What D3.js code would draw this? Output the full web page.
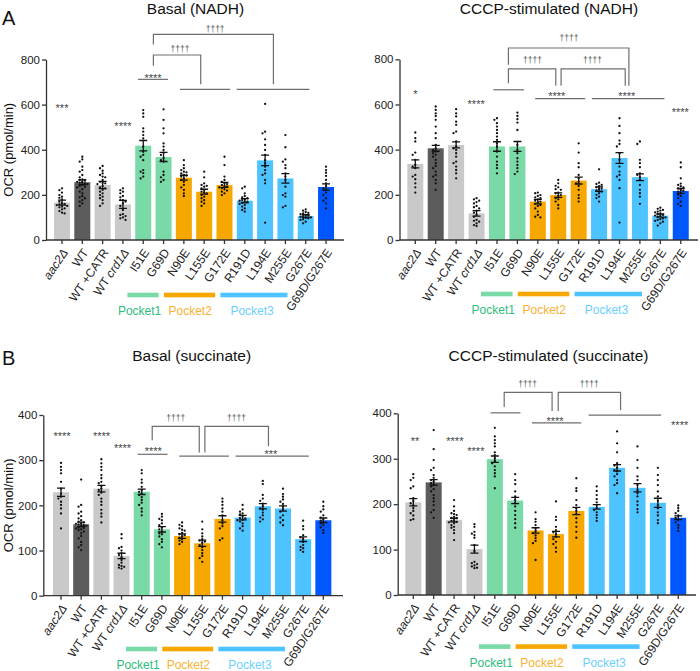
<!DOCTYPE html>
<html>
<head>
<meta charset="utf-8">
<script src="https://cdn.jsdelivr.net/npm/d3@7"></script>
<style>
body { margin: 0; background: #fff; }
svg text { font-family: "Liberation Sans", Arial, sans-serif; }
</style>
</head>
<body>
<div id="container"></div>
<script>

var categories = ["aac2Δ", "WT", "WT +CATR", "WT crd1Δ", "I51E", "G69D", "N90E", "L155E", "G172E", "R191D", "L194E", "M255E", "G267E", "G69D/G267E"];
var barGroups  = ["ctrl", "wt", "ctrl", "ctrl", "p1", "p1", "p2", "p2", "p2", "p3", "p3", "p3", "p3", "double"];
var pocketNames = ["Pocket1", "Pocket2", "Pocket3"];

var nadhTicks = [0, 200, 400, 600, 800];
var succTicks = [0, 100, 200, 300, 400];

// means and SEM
var basalNadhMean = [166, 256, 244, 158, 418, 368, 276, 214, 244, 174, 353, 273, 106, 235];
var basalNadhSem  = [11, 11, 16, 18, 23, 20, 11, 11, 11, 9, 23, 21, 6, 14];
var cccpNadhMean  = [337, 406, 421, 118, 414, 414, 170, 199, 263, 225, 363, 278, 108, 217];
var cccpNadhSem   = [18, 13, 13, 12, 21, 22, 10, 10, 15, 10, 24, 15, 7, 11];
var basalSuccMean = [229, 158, 237, 88, 230, 147, 132, 116, 170, 173, 198, 193, 125, 167];
var basalSuccSem  = [9, 5, 7, 6, 6, 6, 5, 7, 7, 5, 6, 6, 5, 5];
var cccpSuccMean  = [204, 248, 165, 101, 299, 208, 142, 134, 185, 194, 280, 236, 203, 170];
var cccpSuccSem   = [8, 6, 4, 9, 7, 7, 6, 6, 8, 5, 7, 9, 10, 4];

// individual replicates
var basalNadhPoints = [
  [229,221,210,199,192,187,180,170,162,160,158,155,151,148,145,140,136,128,121,118],
  [369,357,347,325,310,303,288,278,269,263,258,254,251,248,244,239,233,225,214,207,195,185,177,170,162,151,266,257,236,189],
  [328,318,307,295,288,278,266,258,254,248,239,233,229,222,214,207,192,185,177,162,151,281,251,199],
  [229,221,214,207,195,189,177,170,162,151,133,115,106,100,96,89,111,177],
  [576,561,546,495,480,465,450,414,391,377,369,354,310,303,296,281,273],
  [579,532,495,473,428,414,399,387,377,362,354,347,303,288,278,266,258],
  [354,332,318,310,303,295,288,281,273,266,258,244,233,222,207,195,300,285],
  [303,278,251,244,236,229,222,214,207,199,192,185,177,170,162,151,240,210],
  [369,332,281,266,258,251,244,239,233,229,225,219,214,207,199,248,236],
  [236,229,207,195,189,185,177,174,170,165,160,155,148,140,133,126,180,168],
  [603,480,473,446,421,399,377,354,340,325,310,295,288,266,251,77],
  [465,411,357,347,332,318,295,281,266,236,207,199,192,151,145],
  [136,130,124,118,115,111,106,103,100,96,92,89,81,74,120,108,98],
  [325,310,298,284,266,251,239,229,222,210,199,185,174,162,140]
];
var cccpNadhPoints = [
  [476,451,436,387,377,355,332,325,318,288,281,269,251,233,210],
  [591,576,561,549,532,502,473,451,421,406,399,391,384,377,369,355,340,328,318,303,288,281,266,251,222],
  [579,561,547,524,510,480,473,436,414,406,399,384,369,347,340,325,310,295,273],
  [185,180,174,168,162,151,145,140,130,121,111,103,89,85,81,74,66,62],
  [539,532,517,502,487,473,458,443,428,414,391,369,347,332,318,295],
  [564,549,535,520,487,421,399,384,362,347,332,318,303,292],
  [210,207,199,195,189,185,180,174,170,166,160,155,151,140,126,111,103,100],
  [266,251,240,233,225,222,210,207,199,195,185,180,170,155,140],
  [428,387,340,322,288,273,258,251,239,222,199,185,170],
  [313,254,248,244,238,233,228,225,220,214,207,200,192,185,170],
  [539,505,473,440,425,414,384,355,325,303,288,281,266,229,77],
  [436,425,355,340,322,295,288,278,266,244,222,207,192,160],
  [143,138,133,130,126,122,118,114,111,108,106,102,100,96,92,89,85,81,74,64],
  [343,322,273,250,244,238,233,228,222,218,214,207,200,195,185,170,160,151]
];
var basalSuccPoints = [
  [294,285,278,271,252,237,226,219,215,208,201,193,182,149],
  [257,201,197,186,182,176,171,167,164,162,159,156,154,151,149,145,142,138,132,127,119,112,107,101,160,158,155,150,147],
  [302,293,285,278,267,260,252,249,243,237,234,228,223,215,208,201,190,182,175,162],
  [136,127,108,105,100,94,90,85,79,73,68,64,60,62,66],
  [278,271,257,250,241,234,230,226,223,218,212,206,201,193,186,178],
  [181,175,167,160,156,151,147,142,136,131,125,119,114,107,170,138],
  [162,157,154,149,146,144,139,136,134,131,128,125,122,119,114],
  [164,147,138,131,125,122,117,112,107,101,94,88,83,75,120],
  [215,208,201,193,186,178,167,160,154,149,127,123],
  [201,191,186,182,180,176,172,171,168,167,164,160,154,149,144],
  [254,247,223,215,210,204,198,193,190,184,178,173,169,164],
  [237,225,219,213,208,203,197,191,186,178,173,167,162,156],
  [166,154,147,134,129,125,119,112,108,105,101,97],
  [208,198,191,186,178,173,169,166,162,156,151,145,139,160]
];
var cccpSuccPoints = [
  [266,258,253,239,235,213,207,202,197,191,185,180,175,167,165],
  [363,321,297,280,275,264,258,253,250,246,242,239,233,228,220,213,206,198,187,182,170],
  [209,195,185,180,176,172,169,165,161,158,154,150,143,136,121,178,170,163,160,148],
  [156,139,132,126,110,97,73,68,65,60,59,150,135,70,63],
  [368,349,341,334,327,314,308,301,295,290,283,275,268,261,235],
  [266,253,244,228,217,209,202,195,185,176,167,158,148],
  [182,167,161,154,147,141,136,131,125,119,114,77],
  [206,172,165,150,143,138,134,128,123,117,112,104,95],
  [257,235,229,209,198,191,185,178,169,160,150,139,126],
  [239,229,220,211,204,198,192,187,182,176,170,163],
  [360,334,314,290,285,280,275,272,266,261,253,246,242,224],
  [327,297,280,261,253,242,231,224,217,206,198,189,182],
  [280,264,253,242,228,217,207,198,191,182,175,165,158],
  [197,191,185,180,175,170,165,160,154,148,141]
];

// significance marks: [category index, value, text]
var basalNadhStars = [[0,595,"***"],[3,515,"****"],[4.48,727,"****"]];
var cccpNadhStars  = [[0,657,"*"],[2.98,613,"****"],[6.93,647,"****"],[10.36,647,"****"],[12.98,579,"****"]];
var basalSuccStars = [[0.05,358,"****"],[2.01,358,"****"],[3.05,332,"****"],[4.57,325,"****"],[10.4,319,"***"]];
var cccpSuccStars  = [[0.08,344,"**"],[2.04,344,"****"],[3.07,322,"****"],[6.95,388,"****"],[13.07,380,"****"]];

// group lines: [from index, to index, value]
var basalNadhLines = [[3.74,5.22,712],[5.81,8.28,668],[8.6,12.18,668]];
var cccpNadhLines  = [[3.82,5.33,665],[5.87,8.32,626],[8.65,12.2,626]];
var basalSuccLines = [[3.8,5.28,313],[5.86,8.32,309],[8.65,12.28,309]];
var cccpSuccLines  = [[3.79,5.26,401],[5.82,8.24,379],[8.6,12.16,396]];

// brackets: [left index, left foot, top, right index, right foot, label index, label value]
var basalNadhBrackets = [[4.5,772,820,6.83,690,5.81,842],[4.5,867,911,10.41,690,7.54,930]];
var cccpNadhBrackets  = [[4.56,694,758,6.88,683,5.74,793],[7.14,683,758,10.28,683,8.68,793],[4.56,776,850,10.46,683,7.53,890]];
var basalSuccBrackets = [[4.52,344,375,6.85,317,5.69,392],[7.13,317,375,10.28,331,8.7,392]];
var cccpSuccBrackets  = [[4.46,414,446,6.81,405,5.61,462],[7.11,405,446,10.17,407,8.63,462]];

var color = d3.scaleOrdinal()
  .domain(["ctrl", "wt", "p1", "p2", "p3", "double"])
  .range(["#c9c9c9", "#5c5c5c", "#79d9a7", "#f6a800", "#4dc4ff", "#0057ff"]);
var pocketFill = ["#79d9a7", "#f6a800", "#4dc4ff"];
var pocketText = ["#2dbd7e", "#f8b232", "#6ccfff"];
var pocketSpans = [[3.22, 4.76], [5.02, 7.54], [7.8, 11.1]];
var pocketLabelAt = [3.82, 6.31, 9.36];

var panels = [
  {mean: basalNadhMean, sem: basalNadhSem, pts: basalNadhPoints, stars: basalNadhStars, lines: basalNadhLines, brackets: basalNadhBrackets,
   ticks: nadhTicks, max: 800, c0: 62, step: 20.31, axisX: 46, axisEnd: 344, yBase: 240, yTop: 59.5,
   title: "Basal (NADH)", tx: 195.5, ty: 14, letter: "A", ylabel: true, legendY: 292.7},
  {mean: cccpNadhMean, sem: cccpNadhSem, pts: cccpNadhPoints, stars: cccpNadhStars, lines: cccpNadhLines, brackets: cccpNadhBrackets,
   ticks: nadhTicks, max: 800, c0: 415.3, step: 20.42, axisX: 399.5, axisEnd: 698, yBase: 240, yTop: 59.3,
   title: "CCCP-stimulated (NADH)", tx: 549, ty: 13.5, ylabel: false, legendY: 291.7},
  {mean: basalSuccMean, sem: basalSuccSem, pts: basalSuccPoints, stars: basalSuccStars, lines: basalSuccLines, brackets: basalSuccBrackets,
   ticks: succTicks, max: 400, c0: 61, step: 20.18, axisX: 43.3, axisEnd: 343, yBase: 595.7, yTop: 415,
   title: "Basal (succinate)", tx: 191.7, ty: 361, letter: "B", ylabel: true, legendY: 646.7},
  {mean: cccpSuccMean, sem: cccpSuccSem, pts: cccpSuccPoints, stars: cccpSuccStars, lines: cccpSuccLines, brackets: cccpSuccBrackets,
   ticks: succTicks, max: 400, c0: 413.3, step: 20.38, axisX: 397.7, axisEnd: 696, yBase: 595, yTop: 413.3,
   title: "CCCP-stimulated (succinate)", tx: 548.5, ty: 360.7, ylabel: false, legendY: 644.3}
];

var svg = d3.select("#container")
  .append("svg")
  .attr("width", 700)
  .attr("height", 671);

// simple swarm so the dots don't sit on top of each other
function swarm(vals, cx, y) {
  var placed = [];
  var offs = [0, -2.6, 2.6, -5.2, 5.2, -7.8, 7.8, -10.4, 10.4];
  vals.slice().sort(d3.descending).forEach(function(v) {
    var py = y(v);
    for (var k = 0; k < offs.length; k++) {
      var px = cx + offs[k];
      var ok = placed.every(function(q) { return (q[0]-px)*(q[0]-px) + (q[1]-py)*(q[1]-py) >= 6.2; });
      if (ok || k == offs.length - 1) { placed.push([px, py]); break; }
    }
  });
  return placed;
}

function drawPanel(p) {
  var n = categories.length;
  var pin = 1 - 16 / p.step;
  var x = d3.scaleBand()
    .domain(categories)
    .range([p.c0 - p.step / 2, p.c0 + (n - 0.5) * p.step])
    .paddingInner(pin)
    .paddingOuter(pin / 2);
  var y = d3.scaleLinear().domain([0, p.max]).range([p.yBase, p.yTop]);
  var ix = function(i) { return x(categories[0]) + x.bandwidth() / 2 + i * x.step(); };

  var g = svg.append("g");

  // bars
  g.append("g").selectAll("rect")
    .data(p.mean)
    .enter().append("rect")
    .attr("x", function(d, i) { return x(categories[i]); })
    .attr("y", function(d) { return y(d); })
    .attr("width", x.bandwidth())
    .attr("height", function(d) { return p.yBase - y(d); })
    .attr("fill", function(d, i) { return color(barGroups[i]); });

  // dots
  p.pts.forEach(function(vals, i) {
    var cx = x(categories[i]) + x.bandwidth() / 2;
    g.append("g").selectAll("circle")
      .data(swarm(vals, cx, y))
      .enter().append("circle")
      .attr("cx", function(d) { return d[0]; })
      .attr("cy", function(d) { return d[1]; })
      .attr("r", 1.15)
      .attr("fill", "#111");
  });

  // error bars
  var eb = g.append("g").attr("stroke", "#111").attr("stroke-width", 1.3).attr("fill", "none");
  p.mean.forEach(function(m, i) {
    var cx = x(categories[i]) + x.bandwidth() / 2;
    var lo = y(m - p.sem[i]), hi = y(m + p.sem[i]);
    eb.append("path")
      .attr("d", "M" + cx + "," + lo + "V" + hi +
                 "M" + (cx - 4) + "," + hi + "H" + (cx + 4) +
                 "M" + (cx - 4) + "," + lo + "H" + (cx + 4));
  });

  // y axis
  var ya = g.append("g")
    .attr("transform", "translate(" + p.axisX + ",0)")
    .call(d3.axisLeft(y).tickValues(p.ticks).tickSize(4).tickSizeOuter(0).tickPadding(2));
  ya.selectAll("path, line").attr("stroke", "#333").attr("stroke-width", 1.3);
  ya.selectAll("text").attr("font-size", 11.5).attr("fill", "#222")
    .style("font-family", "'Liberation Sans', Arial, sans-serif");

  // x axis
  var xa = g.append("g")
    .attr("transform", "translate(0," + p.yBase + ")")
    .call(d3.axisBottom(x).tickSize(4).tickSizeOuter(0));
  xa.select(".domain").remove();
  xa.append("line")
    .attr("x1", p.axisX).attr("x2", p.axisEnd)
    .attr("stroke", "#333").attr("stroke-width", 1.5);
  xa.selectAll("line").attr("stroke", "#333").attr("stroke-width", 1.3);
  xa.selectAll(".tick text").each(function(d) {
    var t = d3.select(this).text("")
      .attr("x", 0).attr("y", 0).attr("dy", "0.35em")
      .attr("text-anchor", "end")
      .attr("font-size", 12)
      .attr("fill", "#222")
      .style("font-family", "'Liberation Sans', Arial, sans-serif")
      .attr("transform", "translate(3,10) rotate(-56)");
    if (d == "aac2Δ") {
      t.append("tspan").attr("font-style", "italic").text(d);
    } else if (d == "WT crd1Δ") {
      t.append("tspan").text("WT ");
      t.append("tspan").attr("font-style", "italic").text("crd1Δ");
    } else {
      t.text(d);
    }
  });

  // group lines and brackets
  var ann = g.append("g").attr("stroke", "#6e6e6e").attr("stroke-width", 1.2).attr("fill", "none");
  p.lines.forEach(function(l) {
    ann.append("line")
      .attr("x1", ix(l[0])).attr("x2", ix(l[1]))
      .attr("y1", y(l[2])).attr("y2", y(l[2]));
  });
  p.brackets.forEach(function(b) {
    ann.append("path")
      .attr("d", "M" + ix(b[0]) + "," + y(b[1]) + "V" + y(b[2]) + "H" + ix(b[3]) + "V" + y(b[4]));
    g.append("text")
      .attr("x", ix(b[5])).attr("y", y(b[6]))
      .attr("dy", "0.27em")
      .attr("text-anchor", "middle")
      .attr("font-size", 8.5)
      .attr("fill", "#555")
      .text("††††");
  });
  p.stars.forEach(function(s) {
    g.append("text")
      .attr("x", ix(s[0])).attr("y", y(s[1]))
      .attr("dy", "0.58em")
      .attr("text-anchor", "middle")
      .attr("font-size", 11)
      .attr("fill", "#444")
      .text(s[2]);
  });

  // pocket legend
  pocketNames.forEach(function(name, k) {
    g.append("rect")
      .attr("x", ix(pocketSpans[k][0]))
      .attr("y", p.legendY)
      .attr("width", ix(pocketSpans[k][1]) - ix(pocketSpans[k][0]))
      .attr("height", 4.6)
      .attr("fill", pocketFill[k]);
    g.append("text")
      .attr("x", ix(pocketLabelAt[k]))
      .attr("y", p.legendY + 22.6)
      .attr("text-anchor", "middle")
      .attr("font-size", 12)
      .attr("fill", pocketText[k])
      .text(name);
  });

  // titles
  g.append("text")
    .attr("x", p.tx).attr("y", p.ty)
    .attr("text-anchor", "middle")
    .attr("font-size", 15.5)
    .attr("fill", "#111")
    .text(p.title);

  if (p.letter) {
    g.append("text")
      .attr("x", 2).attr("y", p.yBase == 240 ? 25 : 365)
      .attr("font-size", 20)
      .attr("fill", "#111")
      .text(p.letter);
  }
  if (p.ylabel) {
    g.append("text")
      .attr("transform", "translate(13," + (p.yBase + p.yTop) / 2 + ") rotate(-90)")
      .attr("text-anchor", "middle")
      .attr("font-size", 13)
      .attr("fill", "#111")
      .text("OCR (pmol/min)");
  }
}

panels.forEach(drawPanel);

</script>
</body>
</html>
